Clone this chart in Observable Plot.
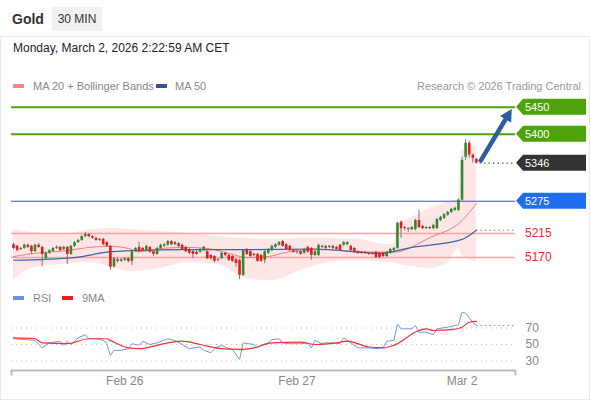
<!DOCTYPE html>
<html><head><meta charset="utf-8">
<script src="https://cdn.jsdelivr.net/npm/d3@7"></script>
<script src="https://cdn.jsdelivr.net/npm/@observablehq/plot@0.6"></script>
<style>
body{margin:0;width:590px;height:400px;overflow:hidden;background:#fff;font-family:"Liberation Sans",Arial,sans-serif;position:relative}
.abs{position:absolute}
#frame{left:0;top:36px;width:588px;height:362px;border:1px solid #e8e8e8}
#title{left:12px;top:11px;font-size:14px;font-weight:bold;color:#333}
#tf{left:52px;top:7px;width:50px;height:24px;line-height:24px;text-align:center;background:#f1f1f3;font-size:12px;color:#333}
#date{left:13px;top:41px;font-size:12px;color:#222}
.lg{font-size:11px;color:#888;top:80px}
.sw{height:4px;width:11px}
</style></head><body>
<div id="frame" class="abs"></div>
<div id="title" class="abs">Gold</div>
<div id="tf" class="abs">30 MIN</div>
<div id="date" class="abs">Monday, March 2, 2026 2:22:59 AM CET</div>
<div class="abs sw" style="left:13px;top:84px;background:#ff8585"></div>
<div class="abs lg" style="left:33px">MA 20 + Bollinger Bands</div>
<div class="abs sw" style="left:156px;top:84px;background:#2f5597"></div>
<div class="abs lg" style="left:175px">MA 50</div>
<div class="abs lg" style="right:9px;color:#999">Research © 2026 Trading Central</div>
<div class="abs sw" style="left:13px;top:296px;background:#6b8ee8"></div>
<div class="abs lg" style="left:33px;top:292px">RSI</div>
<div class="abs sw" style="left:62px;top:296px;background:#ee1c1c"></div>
<div class="abs lg" style="left:82px;top:292px">9MA</div>
<div id="main" class="abs" style="left:0;top:95px"></div>
<div id="rsi" class="abs" style="left:0;top:305px"></div>
<script>
// ---- 30-minute candles (index 0 = Feb 25 ~08:30 CET, 125 = Mar 2 00:00) ----
const open = [5194,5191,5185,5187,5193,5191,5181,5193,5189,5168,
 5178,5181,5187,5189,5185,5189,5176,5191,5198,5202,
 5209,5213,5209,5206,5202,5204,5198,5191,5153,5166,
 5163,5165,5168,5163,5181,5189,5187,5183,5189,5181,
 5176,5187,5191,5193,5200,5194,5196,5193,5189,5185,
 5181,5180,5180,5183,5181,5174,5172,5166,5168,5178,
 5174,5172,5166,5165,5137,5185,5181,5176,5176,5174,
 5165,5178,5183,5189,5193,5200,5194,5191,5183,5181,
 5181,5178,5189,5187,5174,5174,5191,5187,5191,5187,
 5189,5193,5193,5194,5191,5187,5181,5180,5180,5178,
 5178,5180,5178,5178,5172,5178,5183,5187,5236,5224,
 5224,5222,5222,5239,5228,5224,5226,5224,5224,5239,
 5243,5249,5254,5258,5258,5277,5357,5383,5361,5353];
const high = [5197,5193,5189,5195,5195,5193,5195,5196,5191,5180,
 5185,5189,5192,5191,5191,5191,5193,5200,5204,5211,
 5217,5215,5211,5208,5206,5206,5200,5193,5170,5169,
 5168,5170,5170,5183,5189,5198,5189,5193,5191,5183,
 5189,5195,5196,5202,5202,5200,5198,5195,5191,5187,
 5183,5182,5187,5191,5183,5176,5174,5168,5180,5180,
 5176,5174,5168,5167,5185,5187,5183,5178,5178,5176,
 5183,5187,5193,5196,5200,5202,5196,5193,5185,5183,
 5183,5187,5191,5189,5183,5195,5193,5193,5193,5193,
 5191,5195,5200,5200,5193,5189,5183,5181,5181,5180,
 5180,5182,5180,5180,5182,5187,5189,5236,5238,5228,
 5226,5228,5241,5258,5230,5228,5228,5232,5243,5247,
 5252,5256,5262,5264,5279,5357,5390,5387,5363,5355];
const low = [5185,5181,5183,5185,5187,5176,5180,5187,5153,5165,
 5176,5180,5185,5181,5183,5157,5174,5189,5196,5200,
 5207,5207,5204,5200,5200,5192,5189,5146,5150,5160,
 5161,5163,5160,5155,5180,5179,5181,5181,5178,5172,
 5174,5185,5189,5191,5192,5192,5189,5183,5179,5176,
 5168,5174,5178,5181,5166,5165,5160,5162,5166,5172,
 5163,5161,5152,5129,5135,5174,5170,5172,5161,5161,
 5159,5176,5181,5187,5191,5189,5183,5181,5178,5176,
 5174,5176,5178,5165,5172,5172,5187,5185,5187,5185,
 5183,5181,5191,5192,5181,5178,5176,5176,5176,5174,
 5174,5168,5168,5170,5170,5176,5181,5185,5206,5220,
 5217,5220,5220,5224,5222,5222,5222,5222,5222,5237,
 5241,5247,5252,5256,5256,5275,5351,5355,5346,5344];
const close = [5187,5183,5187,5193,5189,5181,5193,5189,5176,5178,
 5183,5187,5189,5183,5189,5176,5191,5198,5202,5209,
 5213,5209,5206,5202,5204,5194,5191,5152,5168,5163,
 5166,5168,5163,5181,5187,5181,5183,5191,5180,5176,
 5187,5193,5194,5200,5194,5198,5191,5185,5181,5178,
 5176,5176,5185,5189,5168,5168,5163,5165,5178,5174,
 5165,5163,5159,5137,5183,5176,5172,5174,5163,5163,
 5181,5185,5191,5194,5198,5191,5185,5183,5180,5180,
 5176,5185,5180,5174,5181,5193,5189,5191,5189,5191,
 5185,5183,5198,5198,5183,5180,5178,5178,5178,5176,
 5176,5170,5170,5172,5180,5185,5187,5234,5224,5226,
 5222,5226,5239,5226,5224,5226,5224,5230,5241,5245,
 5250,5254,5260,5262,5277,5351,5383,5361,5355,5346];

const ma20Idx = [0,6,15,21,27,32,35,41,48,54,60,65,71,76,84,91,99,106,116,125,129];
const ma20Val = [5172,5178,5183,5189,5191,5187,5181,5187,5189,5187,5178,5170,5172,5180,5185,5183,5180,5180,5207,5239,5271];
const ma50Idx = [0,17,27,33,47,66,84,102,111,125,129];
const ma50Val = [5165,5170,5181,5183,5185,5185,5186,5178,5189,5204,5221];
const bbIdx   = [0,5,13,21,27,33,41,49,57,65,72,80,88,96,102,106,107,111,116,121,124,125,127,129];
const bbUpper = [5222,5217,5213,5221,5224,5222,5219,5215,5209,5206,5204,5206,5206,5204,5196,5194,5230,5245,5262,5273,5280,5370,5375,5379];
const bbLower = [5127,5150,5157,5161,5153,5144,5150,5161,5157,5131,5127,5146,5161,5165,5162,5161,5158,5153,5150,5160,5187,5174,5166,5161];

// ---- RSI panel ----
const rsiIdx = [0,6,8,10,13,14,15,16,18,20,21,23,25,26,27,28,30,32,33,35,36,38,40,43,45,47,49,52,53,55,56,58,60,61,63,64,67,68,69,71,72,74,75,77,80,82,83,84,86,87,89,91,92,94,96,99,101,103,104,106,107,108,111,112,113,115,117,118,121,124,125,126,128,129];
const rsiVal = [57,55,46,52,54,49,54,50,58,62,57,57,55,51,37,43,43,45,51,49,54,50,52,57,55,50,45,47,43,40,45,49,45,44,32,52,50,46,49,52,56,57,52,51,51,52,46,55,51,52,52,51,58,52,46,46,45,46,54,55,75,69,69,73,65,65,62,69,71,74,89,88,77,73];
const ma9Idx = [0,6,8,15,21,26,27,32,35,43,47,52,58,63,67,72,80,84,90,93,99,103,106,113,115,117,122,125,127,129];
const ma9Val = [58,57,52,51,57,57,55,46,45,52,54,50,45,44,46,52,53,50,52,54,47,46,49,67,69,67,68,71,77,78];
const rsiLevels = [30,50,70];

// ---- axis and levels ----
const dayTickIdx = [31,79,125];
const dayTickLabels = ["Feb 26","Feb 27","Mar 2"];
const levelPrices = [5450,5400,5346,5275,5215,5170];
const levelLabels = ["5450","5400","5346","5275","5215","5170"];
const levelKinds  = ["res","res","last","pivot","sup","sup"];
const targetFrom = {i:130.1, p:5347};
const targetTo   = {i:139.0, p:5446};

const GREEN="#2d8a2d", RED="#e21b1b";
const xDom = [-0.56, 139.9];
const candles = open.map((o,i)=>({i,o,h:high[i],l:low[i],c:close[i]}));
const ma20 = ma20Idx.map((i,k)=>({i,v:ma20Val[k]}));
const ma50 = ma50Idx.map((i,k)=>({i,v:ma50Val[k]}));
const bb = bbIdx.map((i,k)=>({i,up:bbUpper[k],lo:bbLower[k]}));
const levels = levelPrices.map((p,k)=>({p,label:levelLabels[k],kind:levelKinds[k]}));
const last = candles.length-1;

const kindStyle = {res:{box:"#4ea30c",line:"#4ea30c",w:2},last:{box:"#333333"},pivot:{box:"#1f6ef0",line:"#3a55b8",w:1},sup:{text:"#f02828",line:"#f7a5a5",w:1.5}};

function labelMark(index, scales, values, dims){
  const g = d3.create("svg:g").attr("text-anchor","start");
  const x0 = dims.width - dims.marginRight;
  for (const L of levels){
    const y = scales.y(L.p), s = kindStyle[L.kind];
    if (s.box){
      g.append("path").attr("d",`M${x0+1},${y}L${x0+8},${y-8}H${x0+71}V${y+8}H${x0+8}Z`).attr("fill",s.box);
      g.append("text").attr("x",x0+10).attr("y",y).attr("dy","0.36em").attr("text-anchor","start").attr("fill","#fff").attr("font-size",11).text(L.label);
    } else {
      g.append("text").attr("x",x0+10).attr("y",y).attr("dy","0.36em").attr("text-anchor","start").attr("fill",s.text).attr("font-size",12).text(L.label);
    }
  }
  return g.node();
}
function arrowMark(index, scales){
  const sx=scales.x(targetFrom.i), sy=scales.y(targetFrom.p), tx=scales.x(targetTo.i), ty=scales.y(targetTo.p);
  const dx=tx-sx, dy=ty-sy, len=Math.hypot(dx,dy), ux=dx/len, uy=dy/len, px=-uy, py=ux;
  const hl=12, hw=6.5, bx=tx-ux*hl, by=ty-uy*hl;
  const g = d3.create("svg:g");
  g.append("line").attr("x1",sx).attr("y1",sy).attr("x2",bx+ux*2).attr("y2",by+uy*2).attr("stroke","#2e5e9e").attr("stroke-width",4.5);
  g.append("path").attr("d",`M${tx},${ty}L${bx+px*hw},${by+py*hw}L${bx-px*hw},${by-py*hw}Z`).attr("fill","#2e5e9e");
  return g.node();
}

const mainPlot = Plot.plot({
  width:590, height:190, marginLeft:11, marginRight:75, marginTop:0, marginBottom:0,
  style:{fontFamily:"Liberation Sans, Arial, sans-serif", background:"transparent", overflow:"visible"},
  x:{domain:xDom, axis:null},
  y:{domain:[5118,5472], axis:null},
  marks:[
    Plot.areaY(bb,{x:"i",y1:"lo",y2:"up",fill:"#ffe2e2",fillOpacity:0.85,curve:"monotone-x"}),
    Plot.ruleY(levels.filter(d=>kindStyle[d.kind].line),{y:"p",stroke:d=>kindStyle[d.kind].line,strokeWidth:d=>kindStyle[d.kind].w}),
    Plot.line(ma20,{x:"i",y:"v",stroke:"#f77b7b",strokeWidth:1,curve:"monotone-x"}),
    Plot.line(ma50,{x:"i",y:"v",stroke:"#3d64aa",strokeWidth:1.2,curve:"monotone-x"}),
    Plot.ruleY([ma50Val[ma50Val.length-1]],{x1:last,x2:xDom[1],stroke:"#5b7fc4",strokeDasharray:"1.5,3"}),
    Plot.ruleY([close[last]],{x1:last+1,x2:xDom[1],stroke:"#333",strokeDasharray:"1.5,3"}),
    Plot.ruleX(candles,{x:"i",y1:"l",y2:"h",stroke:"#777",strokeWidth:1}),
    Plot.ruleX(candles,{x:"i",y1:"o",y2:"c",stroke:d=>d.c>=d.o?GREEN:RED,strokeWidth:2.6}),
    arrowMark,
    labelMark
  ]
});
document.getElementById("main").appendChild(mainPlot);

const rsi = rsiIdx.map((i,k)=>({i,v:rsiVal[k]}));
const ma9 = ma9Idx.map((i,k)=>({i,v:ma9Val[k]}));
const rsiPlot = Plot.plot({
  width:590, height:85, marginLeft:11, marginRight:75, marginTop:0, marginBottom:20,
  style:{fontFamily:"Liberation Sans, Arial, sans-serif", background:"transparent", overflow:"visible"},
  x:{domain:xDom, label:null},
  y:{domain:[18.5,97.3], label:null},
  marks:[
    Plot.ruleY(rsiLevels,{stroke:"#bdbdbd",strokeDasharray:"1,4"}),
    Plot.line(rsi,{x:"i",y:"v",stroke:"#7595ec",strokeWidth:1}),
    Plot.line(ma9,{x:"i",y:"v",stroke:"#f23030",strokeWidth:1.2,curve:"monotone-x"}),
    Plot.ruleY([rsiVal[rsiVal.length-1]],{x1:last,x2:xDom[1],stroke:"#7595ec",strokeDasharray:"1.5,3"}),
    Plot.axisY({anchor:"right",ticks:rsiLevels,tickSize:0,tickPadding:10,fontSize:12,color:"#888",label:null}),
    Plot.axisX({ticks:dayTickIdx,tickFormat:d=>dayTickLabels[dayTickIdx.indexOf(d)],tickSize:0,tickPadding:6,fontSize:12,color:"#888",label:null}),
    Plot.ruleY([18.5],{stroke:"#bbb",strokeWidth:2}),
    Plot.ruleX([xDom[0],xDom[1]],{y1:18.5,y2:12,stroke:"#bbb",strokeWidth:2})
  ]
});
document.getElementById("rsi").appendChild(rsiPlot);
</script>
</body></html>
